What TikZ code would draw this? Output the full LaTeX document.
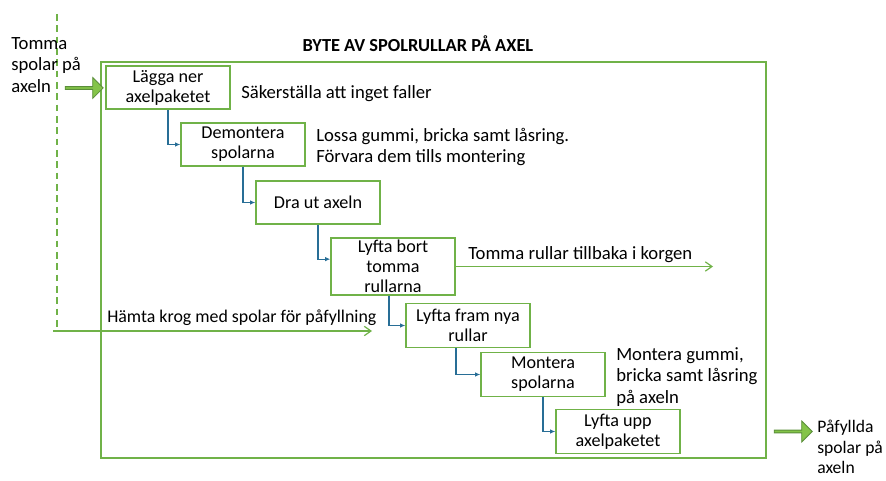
\documentclass[tikz,border=0pt]{standalone}
\usepackage{fontspec}
\setmainfont{Carlito}
\usetikzlibrary{arrows.meta,shapes.arrows}
\definecolor{grn}{RGB}{112,178,72}
\definecolor{grnfill}{RGB}{132,196,72}
\definecolor{blu}{RGB}{40,110,150}
\tikzset{
  stepbox/.style={draw=grn,line width=1pt,minimum width=124*0.75pt,align=center,font=\fontsize{13.6}{15}\selectfont,inner sep=0pt},
  lbl/.style={font=\fontsize{14}{16}\selectfont,align=left,anchor=west,inner sep=0pt},
  conn/.style={draw=blu,line width=0.9pt,-{Latex[length=4pt,width=3.5pt]}},
  gline/.style={draw=grn,line width=0.9pt,-{Straight Barb[length=5pt,width=7pt]}},
  bigarrow/.style={single arrow,draw=grn!80!black,fill=grnfill,line width=0.6pt,minimum height=38*0.75pt,minimum width=21*0.75pt,single arrow head extend=2pt,inner sep=0pt,single arrow tip angle=90}
}
\begin{document}
\begin{tikzpicture}[x=0.75pt,y=-0.75pt]
\useasboundingbox (0,0) rectangle (886,481);
% frame
\draw[grn,line width=1pt] (101,62) rectangle (766,458);
\node[font=\bfseries\fontsize{13.8}{15}\selectfont] (title) at (418,44) {BYTE AV SPOLRULLAR PÅ AXEL};
% dashed line
\coordinate (d1) at (57,14);
\coordinate (d2) at (57,330);
\draw[grn,line width=1pt,dashed,dash pattern=on 5pt off 3.5pt] (d1) -- (d2);
% boxes
\node[stepbox,minimum height=43*0.75pt] (b1) at (168,87.5) {Lägga ner\\axelpaketet};
\node[stepbox,minimum height=43*0.75pt] (b2) at (243,144.5) {Demontera\\spolarna};
\node[stepbox,minimum height=43*0.75pt] (b3) at (318,202.5) {Dra ut axeln};
\node[stepbox,minimum height=57*0.75pt] (b4) at (393,266.5) {Lyfta bort\\tomma\\rullarna};
\node[stepbox,minimum height=44*0.75pt] (b5) at (468,325.5) {Lyfta fram nya\\rullar};
\node[stepbox,minimum height=44*0.75pt] (b6) at (543,374.5) {Montera\\spolarna};
\node[stepbox,minimum height=44*0.75pt] (b7) at (618,431.5) {Lyfta upp\\axelpaketet};
% connectors
\draw[conn] (b1.south) |- (b2.west);
\draw[conn] (b2.south) |- (b3.west);
\draw[conn] (b3.south) |- ([yshift=5.5pt]b4.west);
\draw[conn] ([xshift=-4*0.75pt]b4.south) |- (b5.west);
\draw[conn] ([xshift=-12*0.75pt]b5.south) |- (b6.west);
\draw[conn] (b6.south) |- (b7.west);
% side labels
\node[lbl] (t1) at (241,94) {Säkerställa att inget faller};
\node[lbl] (t2) at (316,147) {Lossa gummi, bricka samt låsring.\\Förvara dem tills montering};
\node[lbl] (t3) at (616,377) {Montera gummi,\\bricka samt låsring\\på axeln};
% return line
\coordinate (r2) at (713,266.5);
\draw[gline] (b4.east) -- (r2);
\node[lbl] (t4) at (468,255) {Tomma rullar tillbaka i korgen};
% fetch line
\coordinate (h1) at (53,331);
\coordinate (h2) at (372,331);
\draw[gline] (h1) -- (h2);
\node[lbl,font=\fontsize{13.4}{16}\selectfont] (t5) at (107,318) {Hämta krog med spolar för påfyllning};
% input / output
\node[lbl] (in) at (11,65) {Tomma\\spolar på\\axeln};
\node[bigarrow] (ain) at (83.5,88) {};
\node[bigarrow] (aout) at (792.5,431.5) {};
\node[lbl,font=\fontsize{13.2}{15.5}\selectfont] (out) at (817,447) {Påfyllda\\spolar på\\axeln};
\end{tikzpicture}
\end{document}
